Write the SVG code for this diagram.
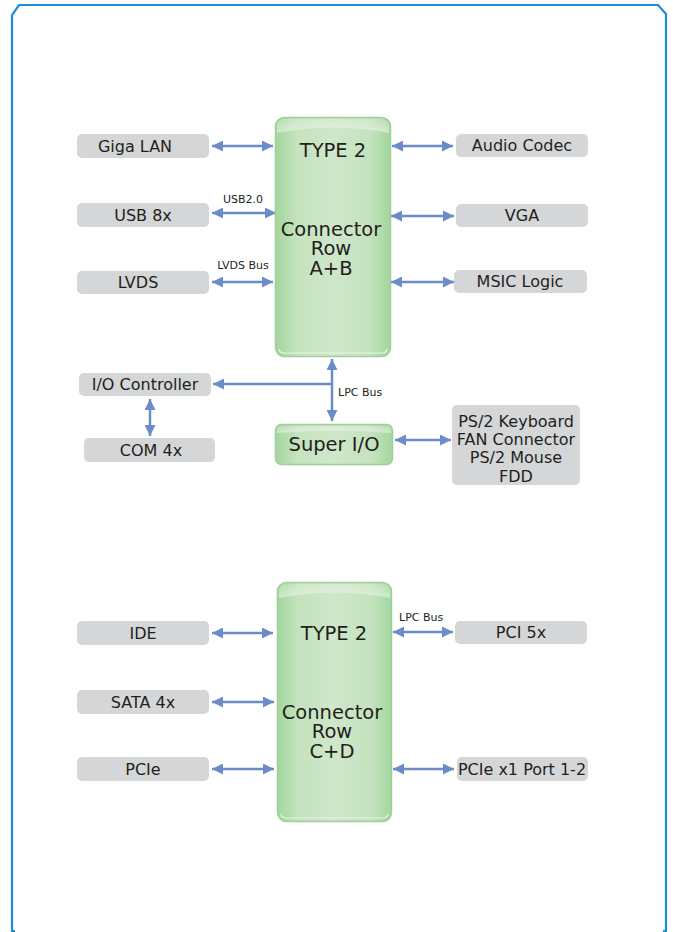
<svg xmlns="http://www.w3.org/2000/svg" width="673" height="932" viewBox="0 0 673 932">
<style>
.g{fill:#d5d6d8}
.t{font-family:"DejaVu Sans",Verdana,sans-serif;font-size:16px;fill:#231f20;text-anchor:middle}
.b{font-family:"DejaVu Sans",Verdana,sans-serif;font-size:19.5px;fill:#231f20;text-anchor:middle}
.s{font-family:"DejaVu Sans",Verdana,sans-serif;font-size:11px;fill:#231f20}
.a{stroke:#6b8cc8;stroke-width:2.5;fill:none}
.gr{fill:url(#grn);stroke:#9ed099;stroke-width:1.5}
.hl{fill:url(#hlg)}
</style>
<defs>
<linearGradient id="grn" x1="0" y1="0" x2="1" y2="0">
<stop offset="0" stop-color="#a3d69d"/>
<stop offset="0.18" stop-color="#c4e3be"/>
<stop offset="0.5" stop-color="#cfe7ca"/>
<stop offset="0.82" stop-color="#c4e3be"/>
<stop offset="1" stop-color="#a3d69d"/>
</linearGradient>
<linearGradient id="hlg" x1="0" y1="0" x2="0" y2="1">
<stop offset="0" stop-color="#ffffff" stop-opacity="0.15"/>
<stop offset="1" stop-color="#ffffff" stop-opacity="0.45"/>
</linearGradient>
<marker id="ah" viewBox="0 0 10 10" refX="10" refY="5" markerWidth="11" markerHeight="11" markerUnits="userSpaceOnUse" orient="auto-start-reverse">
<path d="M0,0 L10,5 L0,10 z" fill="#6b8cc8"/>
</marker>
</defs>
<rect width="673" height="932" fill="#ffffff"/>
<path d="M15,931 H12 V15 L19,5 H658 L666,14 V931 H663" fill="none" stroke="#1a8fd6" stroke-width="2.2"/>

<g id="connectors">
<line class="a" x1="212" y1="146" x2="273" y2="146" marker-start="url(#ah)" marker-end="url(#ah)"/>
<line class="a" x1="212" y1="213" x2="276" y2="213" marker-start="url(#ah)" marker-end="url(#ah)"/>
<line class="a" x1="212" y1="282" x2="273" y2="282" marker-start="url(#ah)" marker-end="url(#ah)"/>
<line class="a" x1="392" y1="146" x2="453" y2="146" marker-start="url(#ah)" marker-end="url(#ah)"/>
<line class="a" x1="391" y1="216" x2="454" y2="216" marker-start="url(#ah)" marker-end="url(#ah)"/>
<line class="a" x1="391" y1="282" x2="454" y2="282" marker-start="url(#ah)" marker-end="url(#ah)"/>
<line class="a" x1="332" y1="359" x2="332" y2="421" marker-start="url(#ah)" marker-end="url(#ah)"/>
<line class="a" x1="332" y1="384" x2="213" y2="384" marker-end="url(#ah)"/>
<line class="a" x1="150" y1="399" x2="150" y2="436" marker-start="url(#ah)" marker-end="url(#ah)"/>
<line class="a" x1="395" y1="440" x2="451" y2="440" marker-start="url(#ah)" marker-end="url(#ah)"/>
<line class="a" x1="212" y1="633" x2="273" y2="633" marker-start="url(#ah)" marker-end="url(#ah)"/>
<line class="a" x1="212" y1="702" x2="274" y2="702" marker-start="url(#ah)" marker-end="url(#ah)"/>
<line class="a" x1="212" y1="769" x2="274" y2="769" marker-start="url(#ah)" marker-end="url(#ah)"/>
<line class="a" x1="393" y1="632" x2="453" y2="632" marker-start="url(#ah)" marker-end="url(#ah)"/>
<line class="a" x1="393" y1="769" x2="454" y2="769" marker-start="url(#ah)" marker-end="url(#ah)"/>
<text class="s" x="243" y="203" text-anchor="middle">USB2.0</text>
<text class="s" x="243" y="269" text-anchor="middle">LVDS Bus</text>
<text class="s" x="338" y="396">LPC Bus</text>
<text class="s" x="399" y="621">LPC Bus</text>
</g>

<g id="type2-ab">
<rect class="gr" x="275.5" y="117.5" width="115" height="239" rx="9"/>
<path class="hl" d="M277,133 V126 Q277,119 285,119 H381 Q389,119 389,126 V133 Q333,122 277,133 z"/>
<path d="M279,349 Q279,353 285,353 H381 Q387,353 387,349" fill="none" stroke="#e6f3e3" stroke-width="1.2"/>
<text class="b" x="333" y="157">TYPE 2</text>
<text class="b" x="331" y="236">Connector</text>
<text class="b" x="331" y="255">Row</text>
<text class="b" x="331" y="275">A+B</text>
</g>

<g id="super-io">
<rect class="gr" x="275.5" y="424.5" width="117" height="40" rx="6"/>
<path class="hl" d="M277,433 V430 Q277,426 282,426 H386 Q391,426 391,430 V433 Q334,428 277,433 z"/>
<text class="b" x="334" y="451">Super I/O</text>
</g>

<g id="type2-cd">
<rect class="gr" x="277.5" y="582.5" width="114" height="239" rx="9"/>
<path class="hl" d="M279,598 V591 Q279,584 287,584 H382 Q390,584 390,591 V598 Q334,587 279,598 z"/>
<path d="M281,814 Q281,818 287,818 H382 Q388,818 388,814" fill="none" stroke="#e6f3e3" stroke-width="1.2"/>
<text class="b" x="334" y="640">TYPE 2</text>
<text class="b" x="332" y="719">Connector</text>
<text class="b" x="332" y="738">Row</text>
<text class="b" x="332" y="758">C+D</text>
</g>

<g id="giga-lan"><rect class="g" x="77" y="134" width="132" height="24" rx="5"/><text class="t" x="135" y="152">Giga LAN</text></g>
<g id="usb"><rect class="g" x="77" y="203" width="132" height="24" rx="5"/><text class="t" x="143" y="221">USB 8x</text></g>
<g id="lvds"><rect class="g" x="77" y="271" width="132" height="23" rx="5"/><text class="t" x="138" y="288">LVDS</text></g>
<g id="audio"><rect class="g" x="456" y="134" width="132" height="23" rx="5"/><text class="t" x="522" y="151">Audio Codec</text></g>
<g id="vga"><rect class="g" x="456" y="204" width="132" height="23" rx="5"/><text class="t" x="522" y="221">VGA</text></g>
<g id="msic"><rect class="g" x="454" y="270" width="133" height="23" rx="5"/><text class="t" x="520" y="287">MSIC Logic</text></g>
<g id="io-controller"><rect class="g" x="79" y="373" width="132" height="23" rx="5"/><text class="t" x="145" y="390">I/O Controller</text></g>
<g id="com"><rect class="g" x="84" y="438" width="131" height="24" rx="5"/><text class="t" x="151" y="456">COM 4x</text></g>
<g id="ps2"><rect class="g" x="452" y="405" width="128" height="80" rx="5"/>
<text class="t" x="516" y="427">PS/2 Keyboard</text>
<text class="t" x="516" y="445">FAN Connector</text>
<text class="t" x="516" y="463">PS/2 Mouse</text>
<text class="t" x="516" y="482">FDD</text></g>
<g id="ide"><rect class="g" x="77" y="621" width="132" height="24" rx="5"/><text class="t" x="143" y="639">IDE</text></g>
<g id="sata"><rect class="g" x="77" y="690" width="132" height="24" rx="5"/><text class="t" x="143" y="708">SATA 4x</text></g>
<g id="pcie"><rect class="g" x="77" y="757" width="132" height="24" rx="5"/><text class="t" x="143" y="775">PCIe</text></g>
<g id="pci"><rect class="g" x="455" y="621" width="132" height="23" rx="5"/><text class="t" x="521" y="638">PCI 5x</text></g>
<g id="pcie-x1"><rect class="g" x="457" y="757" width="131" height="24" rx="5"/><text class="t" x="522" y="775">PCIe x1 Port 1-2</text></g>
</svg>
